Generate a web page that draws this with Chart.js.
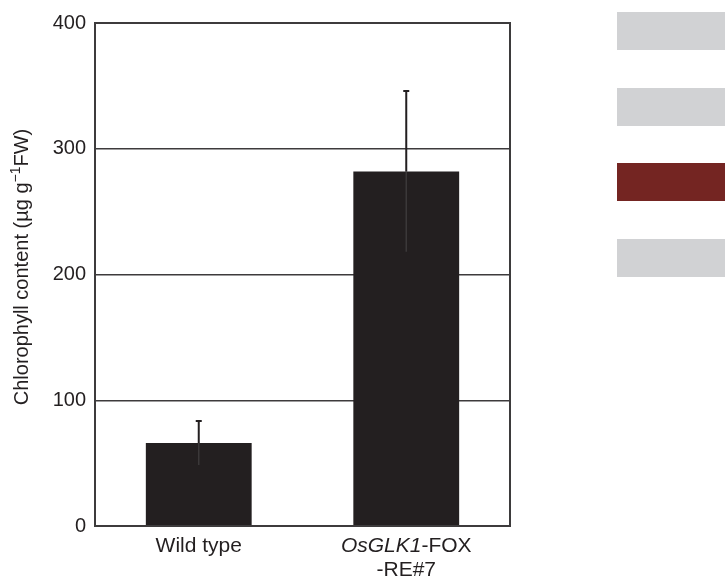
<!DOCTYPE html>
<html>
<head>
<meta charset="utf-8">
<script src="https://cdn.jsdelivr.net/npm/chart.js@4/dist/chart.umd.min.js"></script>
<style>
  html, body { margin: 0; padding: 0; background: #fff; }
  #wrap { position: relative; width: 725px; height: 577px; }
  .blk { position: absolute; left: 617px; width: 108px; height: 38px; }
</style>
</head>
<body>
<div id="wrap">
  <canvas id="chlChart" width="725" height="577"></canvas>
  <div class="blk" style="top:12px;background:#d1d2d4"></div>
  <div class="blk" style="top:88px;background:#d1d2d4"></div>
  <div class="blk" style="top:163px;background:#742522"></div>
  <div class="blk" style="top:239px;background:#d1d2d4"></div>
</div>
<script>
const categories = ['Wild type', 'OsGLK1-FOX-RE#7'];
const chlorophyll = [66, 282];
const chlorophyllErr = [17.5, 64];
const yTicks = [0, 100, 200, 300, 400];

const ink = '#231f20';
const fontFam = '"Liberation Sans", Arial, Helvetica, sans-serif';

// error bars: dark whisker above the bar, faint one inside it
const errorBars = {
  id: 'errorBars',
  afterDatasetsDraw(chart) {
    const ctx = chart.ctx;
    const y = chart.scales.y;
    chart.getDatasetMeta(0).data.forEach((bar, i) => {
      const top = y.getPixelForValue(chlorophyll[i] + chlorophyllErr[i]);
      const low = y.getPixelForValue(chlorophyll[i] - chlorophyllErr[i]);
      ctx.save();
      ctx.strokeStyle = ink;
      ctx.lineWidth = 2;
      ctx.beginPath();
      ctx.moveTo(bar.x, bar.y);
      ctx.lineTo(bar.x, top);
      ctx.moveTo(bar.x - 3, top);
      ctx.lineTo(bar.x + 3, top);
      ctx.stroke();
      ctx.strokeStyle = '#3b3839';
      ctx.lineWidth = 1.5;
      ctx.beginPath();
      ctx.moveTo(bar.x, bar.y);
      ctx.lineTo(bar.x, low);
      ctx.stroke();
      ctx.restore();
    });
  }
};

// frame, x labels (with italic gene name) and y title with superscript
const decor = {
  id: 'decor',
  afterDraw(chart) {
    const ctx = chart.ctx;
    const a = chart.chartArea;
    const x = chart.scales.x;
    ctx.save();
    ctx.strokeStyle = '#3d3b3c';
    ctx.lineWidth = 2;
    ctx.strokeRect(a.left, a.top, a.right - a.left, a.bottom - a.top);

    ctx.fillStyle = ink;
    ctx.textBaseline = 'alphabetic';
    ctx.textAlign = 'left';
    const normal = '21px ' + fontFam;
    const italic = 'italic 21px ' + fontFam;

    // first category
    ctx.font = normal;
    let cx = x.getPixelForValue(0);
    let w = ctx.measureText(categories[0]).width;
    ctx.fillText(categories[0], cx - w / 2, 552);

    // second category: OsGLK1 italic, rest normal, two lines
    cx = x.getPixelForValue(1);
    const gene = 'OsGLK1';
    const rest = categories[1].slice(gene.length, categories[1].indexOf('-RE'));
    const line2 = categories[1].slice(categories[1].indexOf('-RE'));
    ctx.font = italic;
    const wg = ctx.measureText(gene).width;
    ctx.font = normal;
    const wr = ctx.measureText(rest).width;
    let sx = cx - (wg + wr) / 2;
    ctx.font = italic;
    ctx.fillText(gene, sx, 552);
    ctx.font = normal;
    ctx.fillText(rest, sx + wg, 552);
    w = ctx.measureText(line2).width;
    ctx.fillText(line2, cx - w / 2, 576);

    // y title
    const parts = [
      { t: 'Chlorophyll content (\u00b5g g', f: '20px ' + fontFam, dy: 0 },
      { t: '\u22121', f: '14px ' + fontFam, dy: -8 },
      { t: 'FW)', f: '20px ' + fontFam, dy: 0 }
    ];
    let total = 0;
    parts.forEach(p => { ctx.font = p.f; p.w = ctx.measureText(p.t).width; total += p.w; });
    ctx.translate(28, 267);
    ctx.rotate(-Math.PI / 2);
    let px = -total / 2;
    parts.forEach(p => {
      ctx.font = p.f;
      ctx.fillText(p.t, px, p.dy);
      px += p.w;
    });
    ctx.restore();
  }
};

new Chart(document.getElementById('chlChart'), {
  type: 'bar',
  data: {
    labels: categories,
    datasets: [{
      data: chlorophyll,
      backgroundColor: ink,
      borderWidth: 0,
      barPercentage: 0.51,
      categoryPercentage: 1
    }]
  },
  options: {
    responsive: false,
    animation: false,
    layout: { padding: { top: 23, right: 215, left: 0, bottom: 0 } },
    plugins: { legend: { display: false }, tooltip: { enabled: false } },
    scales: {
      x: {
        afterFit(scale) { scale.height = 51; },
        grid: { display: false, drawTicks: false },
        border: { display: false },
        ticks: { display: false }
      },
      y: {
        min: 0,
        max: 400,
        afterFit(scale) { scale.width = 95; },
        afterBuildTicks(scale) { scale.ticks = yTicks.map(v => ({ value: v })); },
        grid: { color: '#3d3b3c', lineWidth: 1.5, drawTicks: false },
        border: { display: false },
        ticks: {
          padding: 9,
          color: ink,
          font: { family: fontFam, size: 20 }
        }
      }
    }
  },
  plugins: [errorBars, decor]
});
</script>
</body>
</html>
